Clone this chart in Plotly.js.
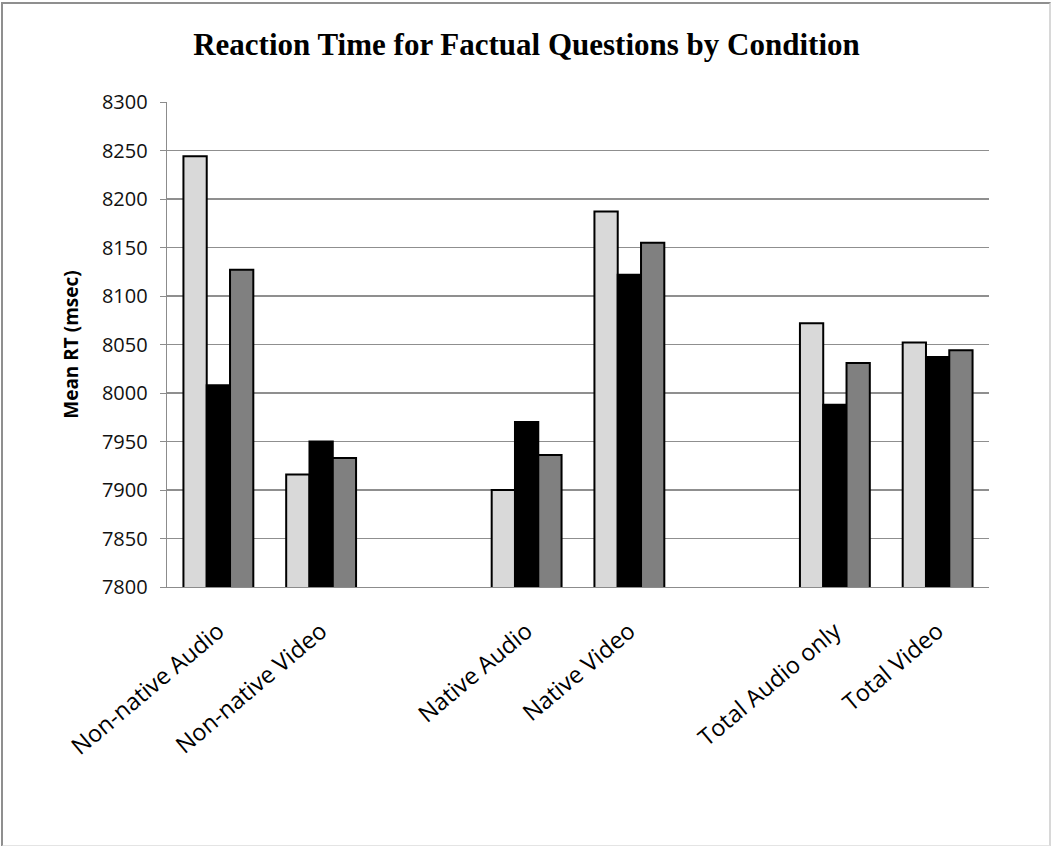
<!DOCTYPE html>
<html>
<head>
<meta charset="utf-8">
<script src="https://cdn.plot.ly/plotly-3.0.1.min.js"></script>
<style>
  html, body { margin: 0; padding: 0; background: #fff; }
  #wrap { position: relative; width: 1053px; height: 846px; }
  #chart { width: 1053px; height: 846px; }
  #frame { position: absolute; left: 1px; top: 2px; width: 1046px; height: 841px;
           border: 2px solid #8f8f8f; border-right-color: #d8d8d8; border-bottom-color: #e4e4e4;
           pointer-events: none; }
</style>
</head>
<body>
<div id="wrap">
  <div id="chart"></div>
  <div id="frame"></div>
</div>
<script>
const categories = ["Non-native Audio", "Non-native Video", " ", "Native Audio", "Native Video", "  ", "Total Audio only", "Total Video"];
const seriesLight = [8244, 7916, null, 7900, 8187, null, 8072, 8052];
const seriesBlack = [8008, 7950, null, 7970, 8122, null, 7988, 8037];
const seriesGray  = [8127, 7933, null, 7936, 8155, null, 8031, 8044];
const yTicks = [7800, 7850, 7900, 7950, 8000, 8050, 8100, 8150, 8200, 8250, 8300];

function bar(vals, color) {
  return {
    type: 'bar', x: categories, y: vals,
    marker: { color: color, line: { color: '#000', width: 2 } },
    hoverinfo: 'y', showlegend: false
  };
}

const data = [bar(seriesLight, '#d9d9d9'), bar(seriesBlack, '#000000'), bar(seriesGray, '#808080')];

const layout = {
  width: 1053, height: 846,
  margin: { l: 167, r: 64, t: 102, b: 259 },
  paper_bgcolor: '#fff', plot_bgcolor: '#fff',
  barmode: 'group', bargap: 0.32, bargroupgap: 0,
  title: {
    text: '<b>Reaction Time for Factual Questions by Condition</b>',
    font: { family: 'Liberation Serif, Times New Roman, serif', size: 31, color: '#000' },
    x: 0.5, xanchor: 'center', xref: 'container', y: 0.948, yanchor: 'middle', yref: 'container'
  },
  xaxis: {
    type: 'category', categoryorder: 'array', categoryarray: categories,
    tickangle: -40, showgrid: false, ticks: '', ticklabelstandoff: 20,
    tickfont: { family: 'Open Sans, Lato, sans-serif', size: 23.5, color: '#000' },
    showline: true, linecolor: '#8c8c8c', linewidth: 1.3,
    zeroline: false
  },
  yaxis: {
    range: [7800, 8300], tickvals: yTicks, ticktext: yTicks.map(String),
    showgrid: true, gridcolor: '#8f8f8f', gridwidth: 1.3,
    showline: true, linecolor: '#8c8c8c', linewidth: 1.3,
    ticks: 'outside', ticklen: 6, tickcolor: '#8c8c8c', ticklabelstandoff: 8,
    tickfont: { family: 'Open Sans, Lato, sans-serif', size: 20, color: '#111' },
    zeroline: false,
    title: { text: '<b>Mean RT (msec)</b>', standoff: 18,
             font: { family: 'Open Sans, Lato, sans-serif', size: 19, color: '#000' } }
  }
};

Plotly.newPlot('chart', data, layout, { displayModeBar: false, staticPlot: true });
</script>
</body>
</html>
